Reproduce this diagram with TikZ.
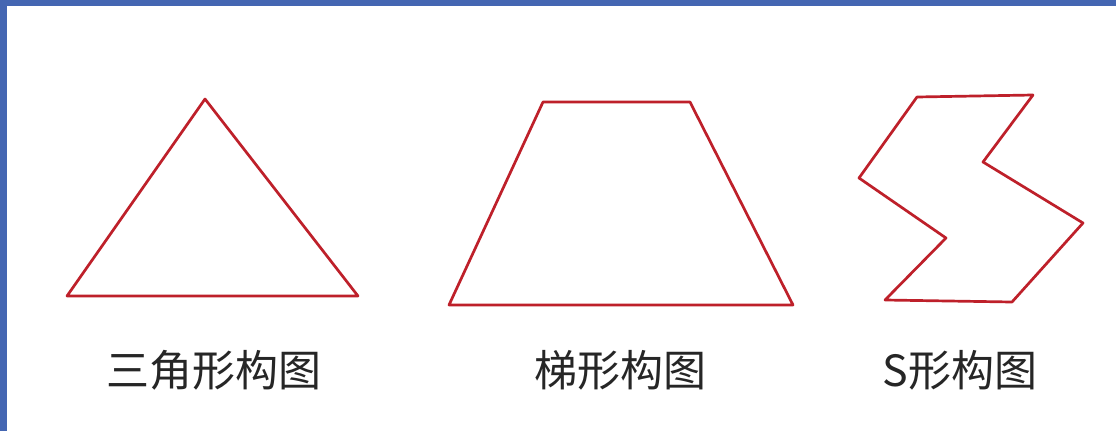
\documentclass[tikz,border=0pt]{standalone}
\usepackage{fontspec}
\usepackage{xcolor}
\usepackage{tikz}
\usetikzlibrary{positioning}
\newfontfamily\cjk{Noto Sans CJK SC}
\definecolor{framblue}{RGB}{68,102,178}
\definecolor{shapered}{RGB}{190,32,42}
\tikzset{
    outline/.style={draw=shapered, line width=2.7pt, line join=round},
    caption/.style={font=\cjk\fontsize{43}{50}\selectfont, text=black!85, inner sep=0pt},
}

\begin{document}
\begin{tikzpicture}[x=1pt, y=-1pt]
	\useasboundingbox (0,0) rectangle (1116,431);
	\fill[white] (0,0) rectangle (1116,431);
	\fill[framblue] (0,0) rectangle (1116,6);
	\fill[framblue] (0,0) rectangle (7,431);
	% triangle
	\draw[outline] (205,99)--(358,296)--(67,296)--cycle;
	% trapezoid
	\draw[outline] (543,102)--(690,102)--(793,305)--(449,305)--cycle;
	% S shape
	\draw[outline] (917,97)--(1033,95)--(983,162)--(1083,223)--(1012,302)
		--(885,300)--(946,238)--(859,178)--cycle;
	\node[caption] (tri) at (214,370) {三角形构图};
	\node[caption] (trap) at (620,370) {梯形构图};
	\node[caption] (ess) at (960,370) {S形构图};
\end{tikzpicture}
\end{document}
